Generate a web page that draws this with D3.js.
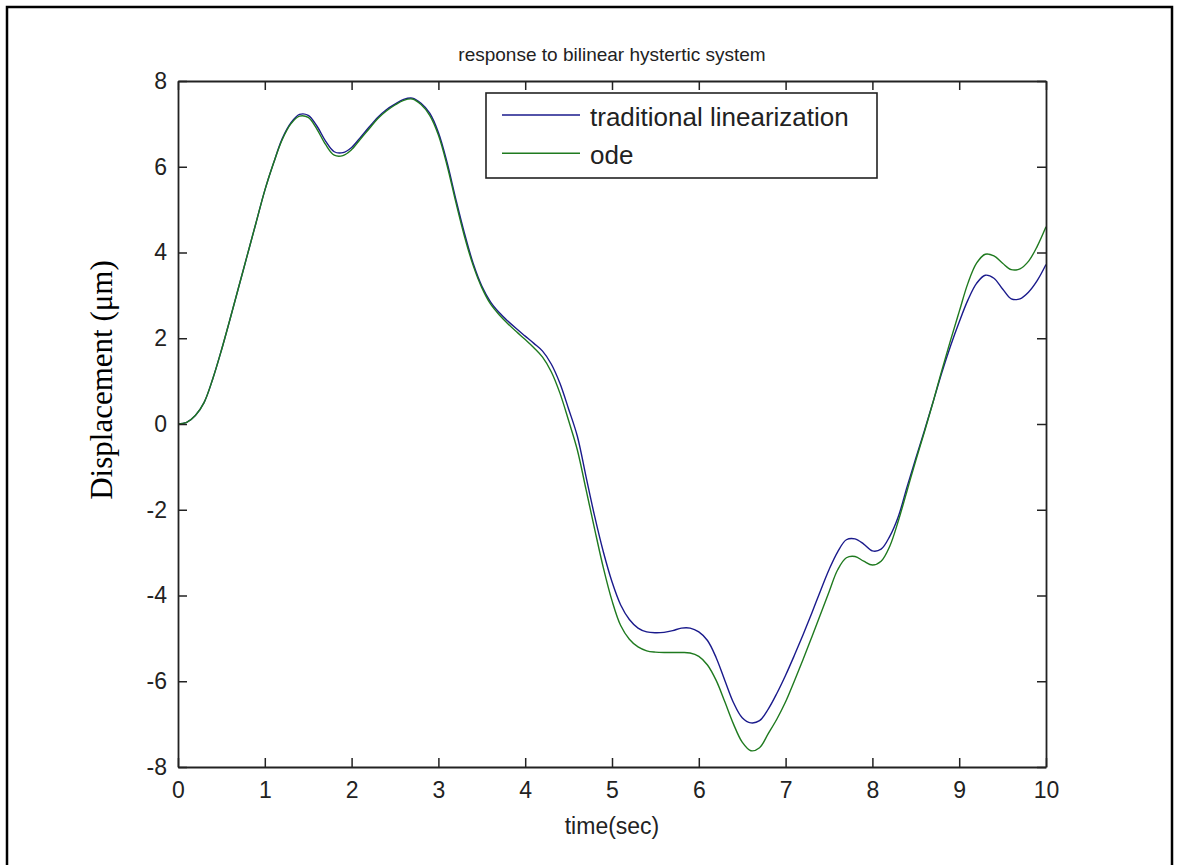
<!DOCTYPE html>
<html>
<head>
<meta charset="utf-8">
<script src="https://cdn.jsdelivr.net/npm/d3@7"></script>
<style>
  body { margin: 0; background: #fff; }
  svg text { fill: #222; }
</style>
</head>
<body>
<div id="chart"></div>
<script>
// time samples (sec)
var times = [0.0, 0.1, 0.2, 0.3, 0.4, 0.5, 0.6, 0.7, 0.8, 0.9,
  1.0, 1.1, 1.2, 1.3, 1.4, 1.5, 1.6, 1.7, 1.8, 1.9,
  2.0, 2.1, 2.2, 2.3, 2.4, 2.5, 2.6, 2.7, 2.8, 2.9,
  3.0, 3.1, 3.2, 3.3, 3.4, 3.5, 3.6, 3.7, 3.8, 3.9,
  4.0, 4.1, 4.2, 4.3, 4.4, 4.5, 4.6, 4.7, 4.8, 4.9,
  5.0, 5.1, 5.2, 5.3, 5.4, 5.5, 5.6, 5.7, 5.8, 5.9,
  6.0, 6.1, 6.2, 6.3, 6.4, 6.5, 6.6, 6.7, 6.8, 6.9,
  7.0, 7.1, 7.2, 7.3, 7.4, 7.5, 7.6, 7.7, 7.8, 7.9,
  8.0, 8.1, 8.2, 8.3, 8.4, 8.5, 8.6, 8.7, 8.8, 8.9,
  9.0, 9.1, 9.2, 9.3, 9.4, 9.5, 9.6, 9.7, 9.8, 9.9, 10.0];

// traditional linearization
var traditional = [0.00, 0.04, 0.20, 0.50, 1.05, 1.72, 2.45, 3.20, 3.95, 4.70,
  5.45, 6.08, 6.65, 7.02, 7.22, 7.20, 6.95, 6.60, 6.35, 6.33,
  6.45, 6.68, 6.92, 7.15, 7.33, 7.46, 7.57, 7.60, 7.48, 7.25,
  6.80, 6.10, 5.25, 4.45, 3.75, 3.22, 2.85, 2.60, 2.40, 2.22,
  2.05, 1.88, 1.70, 1.40, 0.95, 0.35, -0.28, -1.22, -2.15, -2.98,
  -3.68, -4.22, -4.56, -4.76, -4.85, -4.87, -4.86, -4.82, -4.76, -4.76,
  -4.85, -5.05, -5.45, -5.98, -6.50, -6.85, -6.97, -6.92, -6.65, -6.28,
  -5.86, -5.40, -4.92, -4.42, -3.90, -3.40, -2.98, -2.70, -2.68, -2.80,
  -2.96, -2.92, -2.62, -2.15, -1.46, -0.80, -0.15, 0.52, 1.20, 1.82,
  2.38, 2.89, 3.28, 3.47, 3.40, 3.15, 2.92, 2.92, 3.08, 3.35, 3.72];

// ode solution
var ode = [0.00, 0.04, 0.20, 0.50, 1.05, 1.72, 2.45, 3.20, 3.95, 4.70,
  5.45, 6.08, 6.63, 7.00, 7.18, 7.15, 6.88, 6.52, 6.27, 6.26,
  6.40, 6.64, 6.88, 7.12, 7.30, 7.44, 7.55, 7.58, 7.45, 7.20,
  6.74, 6.03, 5.18, 4.38, 3.70, 3.18, 2.80, 2.55, 2.34, 2.15,
  1.97, 1.78, 1.56, 1.22, 0.72, 0.08, -0.60, -1.52, -2.45, -3.35,
  -4.12, -4.70, -5.02, -5.20, -5.29, -5.32, -5.33, -5.33, -5.33, -5.34,
  -5.42, -5.62, -5.98, -6.48, -7.00, -7.42, -7.62, -7.55, -7.22, -6.88,
  -6.48, -6.00, -5.50, -4.98, -4.45, -3.92, -3.40, -3.12, -3.09, -3.20,
  -3.29, -3.20, -2.85, -2.25, -1.55, -0.85, -0.18, 0.52, 1.25, 1.95,
  2.62, 3.28, 3.75, 3.96, 3.92, 3.75, 3.60, 3.62, 3.80, 4.15, 4.60];

var seriesNames = ['traditional linearization', 'ode'];
var seriesColors = ['#1a1a8c', '#1f7a1f'];
var xTicks = [0, 1, 2, 3, 4, 5, 6, 7, 8, 9, 10];
var yTicks = [-8, -6, -4, -2, 0, 2, 4, 6, 8];

var W = 1178, H = 865;
var svg = d3.select('#chart').append('svg')
  .attr('width', W)
  .attr('height', H);

// outer frame (left, top, right edges)
svg.append('path')
  .attr('d', 'M7,' + H + 'V7H1172V' + H)
  .attr('fill', 'none')
  .attr('stroke', '#000')
  .attr('stroke-width', 2.5);

var x = d3.scaleLinear().domain([0, 10]).range([178, 1046]);
var y = d3.scaleLinear().domain([-8, 8]).range([767, 81]);

// data lines
var line = d3.line()
  .x(function(d) { return x(d[0]); })
  .y(function(d) { return y(d[1]); })
  .curve(d3.curveCatmullRom.alpha(0.5));

[traditional, ode].forEach(function(vals, i) {
  svg.append('path')
    .datum(times.map(function(t, j) { return [t, vals[j]]; }))
    .attr('d', line)
    .attr('fill', 'none')
    .attr('stroke', seriesColors[i])
    .attr('stroke-width', 1.4);
});

// axes, ticks pointing inward
var tickFont = '"Liberation Sans", Arial, sans-serif';
var plain = function(d) { return String(d); };
function styleAxis(g) {
  g.select('.domain').attr('stroke', '#222').attr('stroke-width', 1.8);
  g.selectAll('.tick line').attr('stroke', '#222').attr('stroke-width', 1.5);
  g.selectAll('.tick text').attr('fill', '#222')
    .style('font-family', tickFont).style('font-size', '23px');
}

svg.append('g')
  .attr('transform', 'translate(0,' + y(-8) + ')')
  .call(d3.axisBottom(x).tickValues(xTicks).tickFormat(plain)
    .tickSize(-9).tickSizeOuter(0).tickPadding(15))
  .call(styleAxis);

svg.append('g')
  .attr('transform', 'translate(0,' + y(8) + ')')
  .call(d3.axisTop(x).tickValues(xTicks).tickSize(-9).tickSizeOuter(0).tickFormat(''))
  .call(styleAxis);

svg.append('g')
  .attr('transform', 'translate(' + x(0) + ',0)')
  .call(d3.axisLeft(y).tickValues(yTicks).tickFormat(plain)
    .tickSize(-9).tickSizeOuter(0).tickPadding(11))
  .call(styleAxis);

svg.append('g')
  .attr('transform', 'translate(' + x(10) + ',0)')
  .call(d3.axisRight(y).tickValues(yTicks).tickSize(-9).tickSizeOuter(0).tickFormat(''))
  .call(styleAxis);

// titles
svg.append('text')
  .attr('x', (x(0) + x(10)) / 2)
  .attr('y', 61)
  .attr('text-anchor', 'middle')
  .style('font-family', tickFont)
  .style('font-size', '19px')
  .text('response to bilinear hystertic system');

svg.append('text')
  .attr('x', (x(0) + x(10)) / 2)
  .attr('y', 834)
  .attr('text-anchor', 'middle')
  .style('font-family', tickFont)
  .style('font-size', '23px')
  .text('time(sec)');

svg.append('text')
  .attr('transform', 'translate(112,380) rotate(-90)')
  .attr('text-anchor', 'middle')
  .style('font-family', '"Liberation Serif", "Times New Roman", serif')
  .style('font-size', '31px')
  .style('fill', '#000')
  .text('Displacement (\u03bcm)');

// legend
var legend = svg.append('g');
legend.append('rect')
  .attr('x', 486).attr('y', 93)
  .attr('width', 391).attr('height', 85)
  .attr('fill', '#fff')
  .attr('stroke', '#222')
  .attr('stroke-width', 1.6);

seriesNames.forEach(function(name, i) {
  var ly = 115 + i * 38.3;
  legend.append('line')
    .attr('x1', 502).attr('x2', 580)
    .attr('y1', ly).attr('y2', ly)
    .attr('stroke', seriesColors[i])
    .attr('stroke-width', 1.6);
  legend.append('text')
    .attr('x', 590).attr('y', ly + 11)
    .style('font-family', tickFont)
    .style('font-size', '26px')
    .text(name);
});
</script>
</body>
</html>
